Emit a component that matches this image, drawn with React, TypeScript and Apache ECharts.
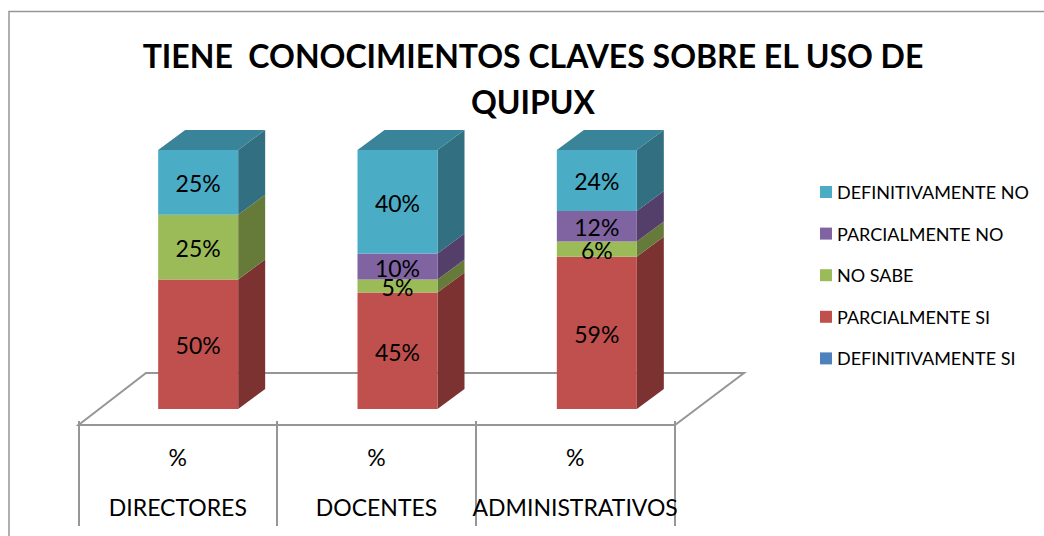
import React, { useEffect, useRef } from "react";
import * as echarts from "echarts";

const categories = ["DIRECTORES", "DOCENTES", "ADMINISTRATIVOS"];
const seriesNames = ["DEFINITIVAMENTE SI", "PARCIALMENTE SI", "NO SABE", "PARCIALMENTE NO", "DEFINITIVAMENTE NO"];
const definitivamenteSi = [0, 0, 0];
const parcialmenteSi = [50, 45, 58.82];
const noSabe = [25, 5, 5.88];
const parcialmenteNo = [0, 10, 11.76];
const definitivamenteNo = [25, 40, 23.53];
const seriesValues = [definitivamenteSi, parcialmenteSi, noSabe, parcialmenteNo, definitivamenteNo];
const frontColors = ["#4F81BD", "#C0504D", "#9BBB59", "#8064A2", "#4BACC6"];
const sideColors = ["#2F4D71", "#7C3230", "#667A3A", "#543F6B", "#326F81"];
const topColor = "#3A8499";
const FONT = "Lato";
const BAR_W = 80;
const DX = 27;
const DY = 20;

function buildSegments(idx: number) {
  return categories.map((_, c) => {
    let start = 0;
    for (let s = 0; s < idx; s++) start += seriesValues[s][c];
    return [c, start, start + seriesValues[idx][c]];
  });
}

export default function App() {
  const ref = useRef<HTMLDivElement>(null);
  useEffect(() => {
    const chart = echarts.init(ref.current!, undefined, { renderer: "svg" });
    const barSeries = seriesNames.map((name, i) => ({
      name,
      type: "bar",
      stack: "total",
      xAxisIndex: 0,
      yAxisIndex: 0,
      barWidth: BAR_W,
      z: 4,
      itemStyle: { color: frontColors[i] },
      label: {
        show: i > 0,
        position: "inside",
        offset: [0, 1],
        color: "#000",
        fontFamily: FONT,
        fontSize: 23,
        formatter: (p: any) => (p.value > 0 ? `${Math.round(p.value)}%` : ""),
      },
      data: seriesValues[i],
    }));
    const sideSeries = seriesNames.map((name, i) => ({
      name: `${name} 3D`,
      type: "custom",
      xAxisIndex: 0,
      yAxisIndex: 0,
      z: 3,
      silent: true,
      clip: false,
      encode: { x: 0, y: [1, 2] },
      data: buildSegments(i),
      renderItem: (_: any, api: any) => {
        const c = api.value(0);
        const a = api.coord([c, api.value(1)]);
        const b = api.coord([c, api.value(2)]);
        const r = a[0] + BAR_W / 2;
        const l = a[0] - BAR_W / 2;
        const children: any[] = [];
        if (api.value(2) - api.value(1) > 0) {
          children.push({
            type: "polygon",
            shape: { points: [[r, a[1]], [r + DX, a[1] - DY], [r + DX, b[1] - DY], [r, b[1]]] },
            style: { fill: sideColors[i] },
          });
          if (i === seriesNames.length - 1) {
            children.push({
              type: "polygon",
              shape: { points: [[l, b[1]], [l + DX, b[1] - DY], [r + DX, b[1] - DY], [r, b[1]]] },
              style: { fill: topColor },
            });
          }
        }
        return { type: "group", children };
      },
    }));
    chart.setOption({
      animation: false,
      backgroundColor: "#fff",
      title: {
        text: "TIENE  CONOCIMIENTOS CLAVES SOBRE EL USO DE\nQUIPUX",
        left: 528,
        top: 27,
        textAlign: "center",
        textStyle: { fontFamily: FONT, fontSize: 32, fontWeight: "bold", color: "#000", lineHeight: 46 },
      },
      legend: {
        orient: "vertical",
        left: 815,
        top: 177,
        itemWidth: 12,
        itemHeight: 12,
        itemGap: 21.6,
        icon: "rect",
        selectedMode: false,
        data: [...seriesNames].reverse(),
        textStyle: { fontFamily: FONT, fontSize: 18, color: "#000", lineHeight: 20 },
      },
      grid: [
        { left: 98.5, width: 598, top: 150, height: 259 },
        { left: 78.5, width: 596, top: 425, height: 101 },
      ],
      xAxis: [
        { type: "category", gridIndex: 0, data: categories, show: false },
        {
          type: "category",
          gridIndex: 1,
          position: "top",
          data: categories.map((c) => `%\n${c}`),
          axisLine: { show: true, onZero: false, lineStyle: { color: "#969696", width: 2 } },
          axisTick: { show: true, length: 4, interval: 0, lineStyle: { color: "#969696", width: 2 } },
          splitLine: { show: true, interval: 0, lineStyle: { color: "#969696", width: 2 } },
          axisLabel: {
            inside: true,
            interval: 0,
            margin: 7,
            color: "#000",
            fontFamily: FONT,
            fontSize: 23,
            lineHeight: 50,
          },
        },
      ],
      yAxis: [
        { type: "value", gridIndex: 0, min: 0, max: 100, show: false },
        { type: "value", gridIndex: 1, min: 0, max: 100, show: false },
      ],
      graphic: [
        {
          type: "polygon",
          z: 0,
          shape: { points: [[78.5, 425], [146, 373], [744, 373], [675, 425]] },
          style: { fill: "#fff", stroke: "#969696", lineWidth: 2 },
        },
        {
          type: "rect",
          z: 0,
          shape: { x: 9, y: 11.5, width: 1040, height: 540 },
          style: { fill: "none", stroke: "#969696", lineWidth: 1.5 },
        },
      ],
      series: [...sideSeries, ...barSeries],
    });
    return () => chart.dispose();
  }, []);
  return <div ref={ref} style={{ position: "fixed", left: 0, top: 0, width: 1044, height: 536 }} />;
}
